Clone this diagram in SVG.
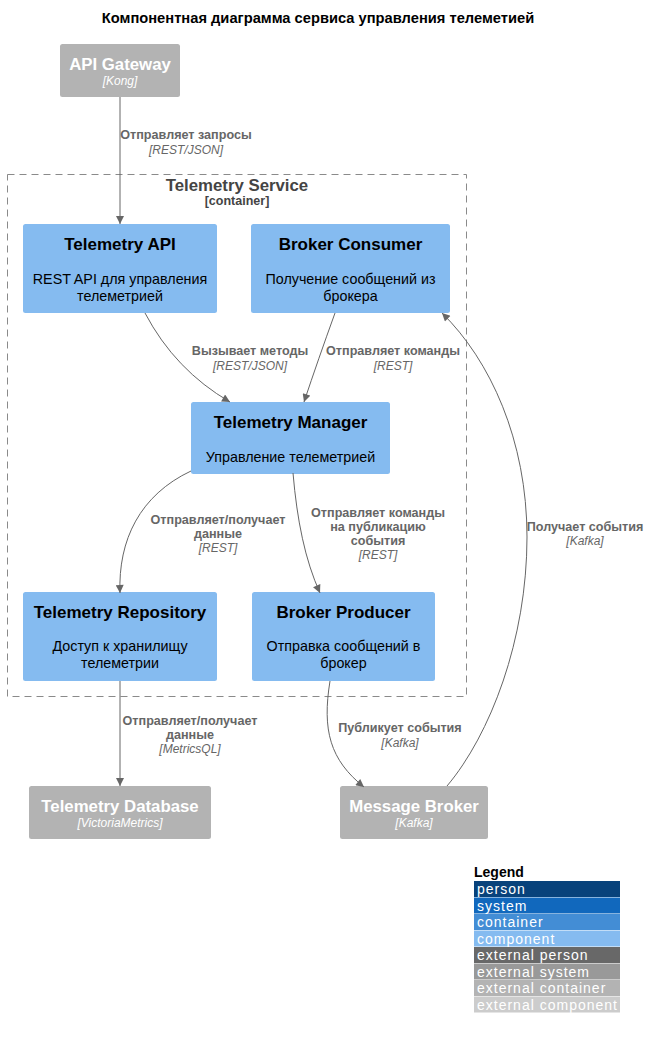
<svg xmlns="http://www.w3.org/2000/svg" width="651" height="1039" viewBox="0 0 651 1039">
<defs>
<marker id="arr" viewBox="0 0 10 10" refX="10" refY="5" markerWidth="10" markerHeight="8" markerUnits="userSpaceOnUse" orient="auto">
<path d="M0,0 L10,5 L0,10 z" fill="#666666"/>
</marker>
</defs>
<style>
text{font-family:"Liberation Sans",Arial,Helvetica,sans-serif}
.title{font-size:14.7px;font-weight:bold;fill:#000}
.comp{fill:#85bbf0}
.ext{fill:#b3b3b3}
.ct{font-size:17px;font-weight:bold;fill:#000;text-anchor:middle}
.cd{font-size:14.3px;fill:#000;text-anchor:middle}
.et{font-size:16.8px;font-weight:bold;fill:#fff;text-anchor:middle}
.etech{font-size:12px;font-style:italic;fill:#fff;text-anchor:middle}
.rl{font-size:12.6px;font-weight:bold;fill:#666;text-anchor:middle}
.rt{font-size:12px;font-style:italic;fill:#666;text-anchor:middle}
.conn path{fill:none;stroke:#666;stroke-width:1;marker-end:url(#arr)}
.lg{font-size:14px;fill:#fff;letter-spacing:1px}
</style>
<rect width="651" height="1039" fill="#fff"/>
<text class="title" x="318" y="23" text-anchor="middle">Компонентная диаграмма сервиса управления телеметией</text>

<g id="boundary">
<rect x="7.5" y="174.5" width="459" height="522" fill="none" stroke="#8a8a8a" stroke-width="1" stroke-dasharray="7,5"/>
<text x="237" y="191" text-anchor="middle" style="font-size:16.8px;font-weight:bold;fill:#444">Telemetry Service</text>
<text x="237" y="205" text-anchor="middle" style="font-size:12.5px;font-weight:bold;fill:#444">[container]</text>
</g>

<g id="api_gateway">
<rect class="ext" x="60" y="44" width="120" height="53" rx="2.5"/>
<text class="et" x="120" y="70">API Gateway</text>
<text class="etech" x="120" y="85">[Kong]</text>
</g>

<g id="telemetry_api">
<rect class="comp" x="23" y="224" width="194" height="89" rx="2.5"/>
<text class="ct" x="120" y="250">Telemetry API</text>
<text class="cd" x="120" y="284">REST API для управления</text>
<text class="cd" x="120" y="301">телеметрией</text>
</g>

<g id="broker_consumer">
<rect class="comp" x="251" y="224" width="199" height="89" rx="2.5"/>
<text class="ct" x="350.5" y="250">Broker Consumer</text>
<text class="cd" x="350.5" y="284">Получение сообщений из</text>
<text class="cd" x="350.5" y="301">брокера</text>
</g>

<g id="telemetry_manager">
<rect class="comp" x="191" y="402" width="199" height="72" rx="2.5"/>
<text class="ct" x="290.5" y="428">Telemetry Manager</text>
<text class="cd" x="290.5" y="462">Управление телеметрией</text>
</g>

<g id="telemetry_repository">
<rect class="comp" x="23" y="592" width="194" height="89" rx="2.5"/>
<text class="ct" x="120" y="618">Telemetry Repository</text>
<text class="cd" x="120" y="651">Доступ к хранилищу</text>
<text class="cd" x="120" y="668">телеметрии</text>
</g>

<g id="broker_producer">
<rect class="comp" x="252" y="592" width="183" height="89" rx="2.5"/>
<text class="ct" x="343.5" y="618">Broker Producer</text>
<text class="cd" x="343.5" y="651">Отправка сообщений в</text>
<text class="cd" x="343.5" y="668">брокер</text>
</g>

<g id="telemetry_database">
<rect class="ext" x="29" y="786" width="182" height="53" rx="2.5"/>
<text class="et" x="120" y="812">Telemetry Database</text>
<text class="etech" x="120" y="827">[VictoriaMetrics]</text>
</g>

<g id="message_broker">
<rect class="ext" x="340" y="786" width="148" height="53" rx="2.5"/>
<text class="et" x="414" y="812">Message Broker</text>
<text class="etech" x="414" y="827">[Kafka]</text>
</g>

<g id="connectors" class="conn">
<path d="M120,97 L120,224"/>
<path d="M145,313 Q175,370 230,402"/>
<path d="M335,313 Q318,360 304,402"/>
<path d="M191,471 C140,495 118,540 120,593"/>
<path d="M293,473 C297,520 305,560 320,593"/>
<path d="M120,681 L120,786"/>
<path d="M330,681 C322,730 330,760 364,787"/>
<path d="M447,786 C490,735 527,640 527,537 C527,440 490,360 442,313"/>
</g>

<g id="connector_labels">
<text class="rl" x="186" y="139">Отправляет запросы</text>
<text class="rt" x="186" y="154">[REST/JSON]</text>
<text class="rl" x="250" y="355">Вызывает методы</text>
<text class="rt" x="250" y="370">[REST/JSON]</text>
<text class="rl" x="393" y="355">Отправляет команды</text>
<text class="rt" x="393" y="370">[REST]</text>
<text class="rl" x="218" y="524">Отправляет/получает</text>
<text class="rl" x="218" y="538">данные</text>
<text class="rt" x="218" y="552">[REST]</text>
<text class="rl" x="378" y="517">Отправляет команды</text>
<text class="rl" x="378" y="531">на публикацию</text>
<text class="rl" x="378" y="545">события</text>
<text class="rt" x="378" y="559">[REST]</text>
<text class="rl" x="190" y="725">Отправляет/получает</text>
<text class="rl" x="190" y="739">данные</text>
<text class="rt" x="190" y="753">[MetricsQL]</text>
<text class="rl" x="400" y="732">Публикует события</text>
<text class="rt" x="400" y="747">[Kafka]</text>
<text class="rl" x="585" y="531">Получает события</text>
<text class="rt" x="585" y="545">[Kafka]</text>
</g>

<g id="legend">
<text x="474" y="877" style="font-size:14px;font-weight:bold;fill:#000">Legend</text>
<rect x="474" y="881" width="146" height="16" fill="#08427b"/>
<text class="lg" x="477" y="894">person</text>
<rect x="474" y="897.5" width="146" height="16" fill="#1168bd"/>
<text class="lg" x="477" y="910.5">system</text>
<rect x="474" y="914" width="146" height="16" fill="#438dd5"/>
<text class="lg" x="477" y="927">container</text>
<rect x="474" y="930.5" width="146" height="16" fill="#85bbf0"/>
<text class="lg" x="477" y="943.5">component</text>
<rect x="474" y="947" width="146" height="16" fill="#686868"/>
<text class="lg" x="477" y="960">external person</text>
<rect x="474" y="963.5" width="146" height="16" fill="#999999"/>
<text class="lg" x="477" y="976.5">external system</text>
<rect x="474" y="980" width="146" height="16" fill="#b3b3b3"/>
<text class="lg" x="477" y="993">external container</text>
<rect x="474" y="996.5" width="146" height="16" fill="#cccccc"/>
<text class="lg" x="477" y="1009.5">external component</text>
</g>
</svg>
